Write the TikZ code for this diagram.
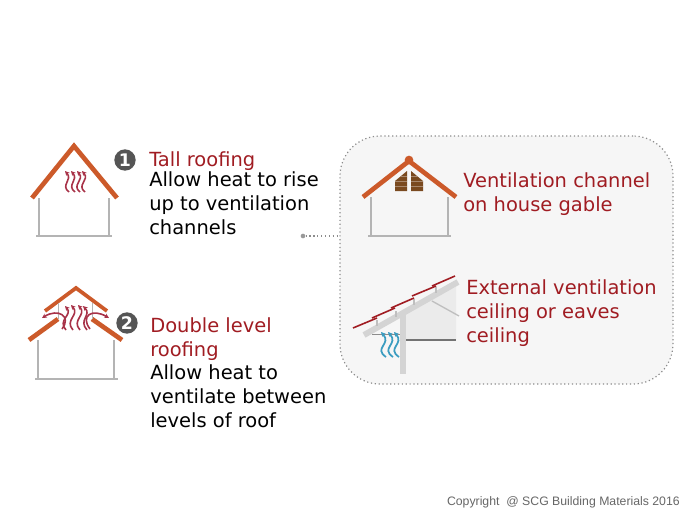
\documentclass[tikz,border=0pt]{standalone}
\usepackage{fontspec}
\setmainfont{DejaVu Sans}
\newfontfamily\copyfont{Liberation Sans}
\usetikzlibrary{arrows.meta,positioning,fit,backgrounds}
\definecolor{roofOrange}{HTML}{CC5A2A}
\definecolor{wallGray}{HTML}{B4B4B4}
\definecolor{heatRed}{HTML}{A83248}
\definecolor{titleRed}{HTML}{A01C22}
\definecolor{badgeGray}{HTML}{555555}
\definecolor{panelGray}{HTML}{F6F6F6}
\definecolor{shutterBrown}{HTML}{7A4A20}
\definecolor{heatBlue}{HTML}{3A9CC0}

\begin{document}
\begin{tikzpicture}[
    x=0.75pt,
    y=-0.75pt,
    >={Stealth[length=3.5pt,width=3.5pt]},
    roof/.style={draw=roofOrange,line width=3.5pt},
    wall/.style={draw=wallGray,line width=2pt},
    heat/.style={draw=heatRed,line width=1.2pt,->},
    coolair/.style={draw=heatBlue,line width=1.3pt,->},
    badge/.style={circle,fill=badgeGray,text=white,inner sep=0pt,minimum size=16pt,font=\bfseries\fontsize{13}{13}\selectfont},
    title/.style={anchor=base west,inner sep=0pt,align=left,text=titleRed,font=\fontsize{14.6}{17.7}\selectfont},
    body/.style={anchor=base west,inner sep=0pt,align=left,text=black,font=\fontsize{14.6}{17.7}\selectfont}
]
\useasboundingbox (0,0) rectangle (700,525);

% -- House 1 --
\draw[roof] (32,198) -- (74,146) -- (117,198);
\draw[wall] (39,198) -- (39,236);
\draw[wall] (109,198) -- (109,236);
\draw[wall] (36,236) -- (112,236);
\draw[heat] (69,192) .. controls (60,185) and (73,180) .. (65,171);
\draw[heat] (75,192) .. controls (66,185) and (79,180) .. (71,171);
\draw[heat] (80,192) .. controls (71,185) and (85,180) .. (77,171);
\draw[heat] (85,192) .. controls (76,185) and (90,180) .. (82,171);
\node[badge] (badgeTall) at (125,160) {1};
\node[title] (titleTall) at (149,166) {Tall roofing};
\node[body] (bodyTall) at (149,234) {Allow heat to rise\\up to ventilation\\channels};

% -- House 2 --
\draw[roof,line width=2.8pt] (45,311) -- (76,288) -- (107,311);
\draw[roof] (29,340) -- (58,319);
\draw[roof] (92,319) -- (122,340);
\draw[draw=wallGray,line width=0.6pt] (58,303) -- (58,319);
\draw[draw=wallGray,line width=0.6pt] (92,303) -- (92,319);
\draw[wall] (38,340) -- (38,379);
\draw[wall] (114,340) -- (114,379);
\draw[wall] (35,379) -- (118,379);
\draw[heat] (62,329) .. controls (72,316) and (58,308) .. (42,318);
\draw[heat] (90,329) .. controls (80,316) and (92,308) .. (109,318);
\draw[heat] (66,330) .. controls (57,320) and (73,315) .. (65,306);
\draw[heat] (73,330) .. controls (64,320) and (80,315) .. (71,305);
\draw[heat] (80,330) .. controls (71,320) and (87,315) .. (78,305);
\draw[heat] (87,330) .. controls (78,320) and (92,315) .. (83,306);
\node[badge] (badgeDouble) at (127,323) {2};
\node[title] (titleDouble) at (150,356) {Double level\\roofing};
\node[body] (bodyDouble) at (150,427) {Allow heat to\\ventilate between\\levels of roof};

% -- Gable house --
\draw[roof] (363,197) -- (409,161) -- (456,197);
\node[circle,fill=roofOrange,inner sep=0pt,minimum size=6.5pt] (ridgeBall) at (409,160) {};
\draw[wall] (371,197) -- (371,236);
\draw[wall] (448,197) -- (448,236);
\draw[wall] (368,236) -- (451,236);
\fill[shutterBrown] (395,181) -- (407,171) -- (407,191) -- (395,191) -- cycle;
\fill[shutterBrown] (411,171) -- (423,181) -- (423,191) -- (411,191) -- cycle;
\draw[draw=white!35!shutterBrown,line width=0.4pt] (395,186) -- (407,186) (395,181) -- (407,181) (400,176) -- (407,176);
\draw[draw=white!35!shutterBrown,line width=0.4pt] (411,186) -- (423,186) (411,181) -- (423,181) (411,176) -- (418,176);
\node[title] (titleGable) at (463,211) {Ventilation channel\\on house gable};

% -- Eaves detail --
\fill[black!8] (405,313) -- (456,287) -- (456,340) -- (405,340) -- cycle;
\draw[draw=black!17,line width=4.5pt] (364,335) -- (458,282);
\draw[draw=black!17,line width=4pt] (403,313) -- (403,374);
\draw[draw=black!55,line width=1.4pt] (406,340) -- (456,340);
\draw[draw=black!45,line width=0.6pt] (372,334) -- (400,334);
\draw[draw=black!25,line width=1.5pt] (377,320) -- (377,326);
\draw[draw=black!25,line width=1.5pt] (396,311) -- (396,317);
\draw[draw=black!25,line width=1.5pt] (414,299) -- (414,305);
\draw[draw=black!25,line width=1.5pt] (436,287) -- (436,293);
\draw[draw=titleRed,line width=1.2pt] (353,328) -- (377,318);
\draw[draw=titleRed,line width=1.2pt] (372,318) -- (395,308);
\draw[draw=titleRed,line width=1.2pt] (391,308) -- (414,298);
\draw[draw=titleRed,line width=1.2pt] (412,296) -- (436,286);
\draw[draw=titleRed,line width=1.2pt] (432,286) -- (455,276);
\draw[coolair] (386,357) .. controls (373,348) and (392,344) .. (381,332);
\draw[coolair] (393,357) .. controls (380,348) and (399,344) .. (388,332);
\draw[coolair] (399,357) .. controls (386,348) and (405,344) .. (394,332);
\draw[draw=black!25,line width=1pt] (432,301) -- (459,316);
\node[title] (titleEaves) at (466,342) {External ventilation\\ceiling or eaves\\ceiling};

% -- Leader to the panel --
\node[circle,fill=black!40,inner sep=0pt,minimum size=3.5pt] (leaderDot) at (303,236) {};
\coordinate (panelNW) at (340,136);
\coordinate (panelSE) at (673,384);

\node[anchor=base east,inner sep=0pt,text=black!60,font=\copyfont\fontsize{9.2}{10}\selectfont] (copyright) at (680,505) {Copyright\ \ @ SCG Building Materials 2016};

% -- Background box for the two details --
\begin{scope}[on background layer]
  \node[fill=panelGray,draw=black!45,dotted,line width=0.9pt,rounded corners=30pt,inner sep=0pt,
        fit=(panelNW)(panelSE)] (panel) {};
  \draw[draw=black!45,dotted,line width=0.9pt] (leaderDot) -- (leaderDot -| panel.west);
\end{scope}

\end{tikzpicture}
\end{document}
